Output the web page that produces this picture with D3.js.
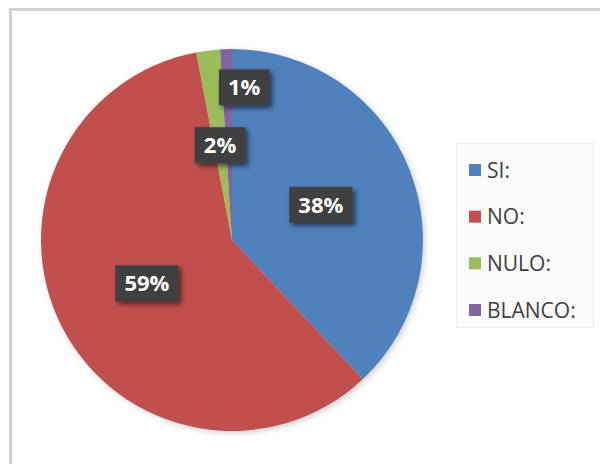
<!DOCTYPE html>
<html>
<head>
<meta charset="utf-8">
<script src="https://cdn.jsdelivr.net/npm/d3@7"></script>
<style>
  html, body { margin: 0; padding: 0; background: #fff; }
  svg { display: block; }
</style>
</head>
<body>
<svg id="chart" width="600" height="464"></svg>
<script>
// Referendum results
const categories = ["SI:", "NO:", "NULO:", "BLANCO:"];
const values = [38, 59, 2, 1];
const labels = ["38%", "59%", "2%", "1%"];
const colors = ["#4F81BD", "#C0504D", "#9BBB59", "#8064A2"];

const svg = d3.select("#chart");

// frame
svg.append("rect").attr("x", 10.5).attr("y", 9.5).attr("width", 600).attr("height", 470)
  .attr("fill", "#fff").attr("stroke", "#d0d0d0").attr("stroke-width", 3);

const defs = svg.append("defs");
const sh = defs.append("filter").attr("id", "lblShadow")
  .attr("x", "-30%").attr("y", "-30%").attr("width", "170%").attr("height", "170%");
sh.append("feDropShadow").attr("dx", 3).attr("dy", 3).attr("stdDeviation", 2.5)
  .attr("flood-color", "#000").attr("flood-opacity", 0.55);

const ps = defs.append("filter").attr("id", "pieShadow")
  .attr("x", "-10%").attr("y", "-10%").attr("width", "120%").attr("height", "120%");
ps.append("feDropShadow").attr("dx", 2).attr("dy", 2).attr("stdDeviation", 3)
  .attr("flood-color", "#000").attr("flood-opacity", 0.18);

const cx = 232, cy = 240, r = 191;

const pie = d3.pie().sort(null).value(d => d);
const arcs = pie(values);
const arc = d3.arc().innerRadius(0).outerRadius(r);

const g = svg.append("g").attr("transform", `translate(${cx},${cy})`);
g.append("g").attr("filter", "url(#pieShadow)")
  .selectAll("path").data(arcs).join("path")
  .attr("d", arc)
  .attr("fill", (d, i) => colors[i]);

// data labels: inside at half radius; the thinnest slice label is pushed outward and aside
const labelArc = d3.arc().innerRadius(r * 0.5).outerRadius(r * 0.5);
const outerArc = d3.arc().innerRadius(r * 0.8).outerRadius(r * 0.8);
function labelPos(d, i) {
  const small = (d.endAngle - d.startAngle) < 0.04 * Math.PI;
  if (small && i === arcs.length - 1) {
    const p = outerArc.centroid(d);
    return [p[0] + 17, p[1]];
  }
  return labelArc.centroid(d);
}

const lbl = g.append("g").selectAll("g").data(arcs).join("g")
  .attr("transform", (d, i) => { const p = labelPos(d, i); return `translate(${p[0]},${p[1]})`; });

lbl.each(function (d, i) {
  const el = d3.select(this);
  const t = el.append("text")
    .attr("text-anchor", "middle")
    .attr("dy", "0.36em")
    .attr("font-family", "'Open Sans', sans-serif")
    .attr("font-weight", "bold")
    .attr("font-size", 22)
    .attr("fill", "#fff")
    .text(labels[i]);
  const bb = t.node().getBBox();
  const padX = 9, h = 36;
  el.insert("rect", "text")
    .attr("x", -bb.width / 2 - padX)
    .attr("y", -h / 2)
    .attr("width", bb.width + 2 * padX)
    .attr("height", h)
    .attr("fill", "#3f3f3f")
    .attr("filter", "url(#lblShadow)");
});

// legend
const lg = svg.append("g");
lg.append("rect").attr("x", 456.5).attr("y", 143.5).attr("width", 137).attr("height", 184)
  .attr("fill", "#fbfbfb").attr("stroke", "#eeeeee");
const ly = d3.scalePoint().domain(categories).range([170, 310]);
const item = lg.selectAll("g.item").data(categories).join("g")
  .attr("class", "item")
  .attr("transform", d => `translate(469,${ly(d)})`);
item.append("rect").attr("x", 0).attr("y", -6).attr("width", 12).attr("height", 12)
  .attr("fill", (d, i) => colors[i]);
item.append("text").attr("x", 18).attr("dy", "0.36em")
  .attr("font-family", "'Open Sans', sans-serif")
  .attr("font-size", 21)
  .attr("fill", "#404040")
  .text(d => d);
</script>
</body>
</html>
